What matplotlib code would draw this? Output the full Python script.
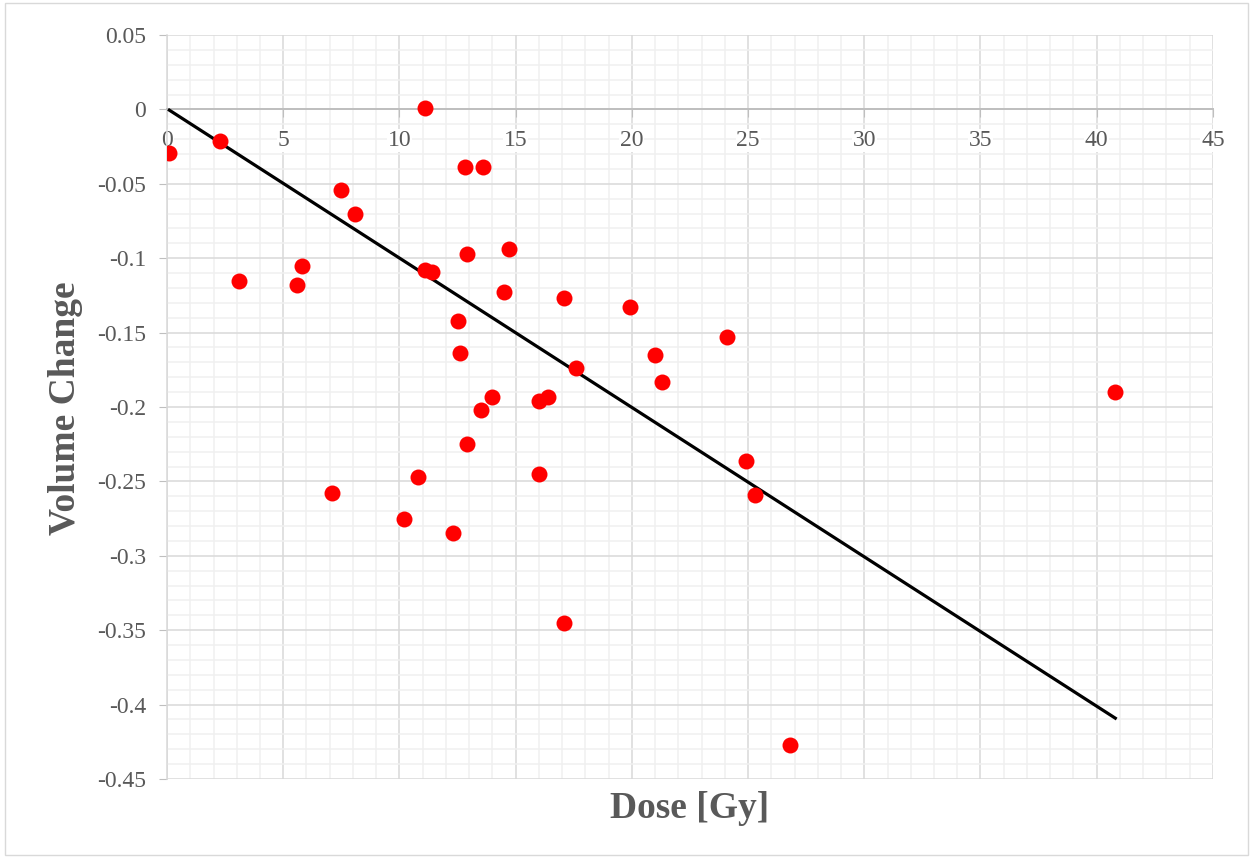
import numpy as np
import matplotlib.pyplot as plt
from matplotlib.ticker import MultipleLocator, FuncFormatter
from matplotlib.patches import Rectangle

# dose vs. relative volume change per structure
dose = [0.1, 2.3, 11.1, 12.8, 13.6, 7.5, 8.1, 3.1, 5.8, 5.6,
        11.1, 11.4, 12.9, 14.7, 14.5, 17.1, 19.9, 12.5, 12.6, 21.0,
        24.1, 17.6, 21.3, 14.0, 16.4, 16.0, 13.5, 12.9, 40.8, 16.0,
        24.9, 25.3, 7.1, 10.8, 10.2, 12.3, 17.1, 26.8]
volume_change = [-0.029, -0.021, 0.001, -0.039, -0.039, -0.054, -0.070, -0.115, -0.105, -0.118,
                 -0.108, -0.109, -0.097, -0.094, -0.123, -0.127, -0.133, -0.142, -0.164, -0.165,
                 -0.153, -0.174, -0.183, -0.193, -0.193, -0.196, -0.202, -0.225, -0.190, -0.245,
                 -0.236, -0.259, -0.258, -0.247, -0.275, -0.285, -0.345, -0.427]

# linear trend line
trend_slope = -0.01004
trend_intercept = 0.0005

grey = '#595959'
plt.rcParams['font.family'] = ['Liberation Serif', 'DejaVu Serif']

fig = plt.figure(figsize=(12.53, 8.58), dpi=100)
fig.patches.append(Rectangle((0.004, 0.004), 0.992, 0.992, transform=fig.transFigure,
                             fill=False, edgecolor='#d9d9d9', linewidth=1))
ax = fig.add_axes([0.1333, 0.0921, 0.8347, 0.8671])

ax.set_xlim(0, 45)
ax.set_ylim(-0.45, 0.05)

ax.xaxis.set_major_locator(MultipleLocator(5))
ax.xaxis.set_minor_locator(MultipleLocator(1))
ax.yaxis.set_major_locator(MultipleLocator(0.05))
ax.yaxis.set_minor_locator(MultipleLocator(0.01))

ax.grid(which='major', color='#d9d9d9', linewidth=1.1)
ax.grid(which='minor', color='#f0f0f0', linewidth=1.1)
ax.set_axisbelow(True)

for side in ['top', 'right']:
    ax.spines[side].set_visible(False)
ax.spines['bottom'].set_position(('data', 0))
ax.spines['bottom'].set_color('#bfbfbf')
ax.spines['bottom'].set_linewidth(1.4)
ax.spines['left'].set_color('#d9d9d9')
ax.spines['left'].set_linewidth(1.1)

ax.tick_params(which='major', axis='both', direction='out', length=6,
               color='#bfbfbf', labelcolor=grey, labelsize=17)
ax.tick_params(axis='x', labelbottom=False)
ax.tick_params(axis='y', pad=9)
ax.tick_params(which='minor', length=0)
ax.yaxis.set_major_formatter(FuncFormatter(lambda v, p: f'{round(v, 2):g}'.replace('\u2212', '-')))

# x labels hang under the zero line and cover the grid behind them
for v in ax.get_xticks():
    if 0 <= v <= 45:
        ax.annotate(f'{v:g}', (v, 0), xytext=(0, -22.5), textcoords='offset points',
                    ha='center', va='center', fontsize=17, color=grey, zorder=2,
                    bbox=dict(facecolor='white', edgecolor='none', pad=0.5))

xs = np.array([min(dose), max(dose)])
ax.plot(xs, trend_slope * xs + trend_intercept, color='black', linewidth=2.3, zorder=3)
ax.plot(dose, volume_change, 'o', color='#ff0000', markersize=11.5, markeredgewidth=0, zorder=4)

fig.text(0.5505, 0.058, 'Dose [Gy]', ha='center', va='center',
         fontsize=27, fontweight='bold', color=grey)
fig.text(0.052, 0.5245, 'Volume Change', ha='center', va='center', rotation=90,
         fontsize=27, fontweight='bold', color=grey)

fig.savefig('out.png', dpi=100)
